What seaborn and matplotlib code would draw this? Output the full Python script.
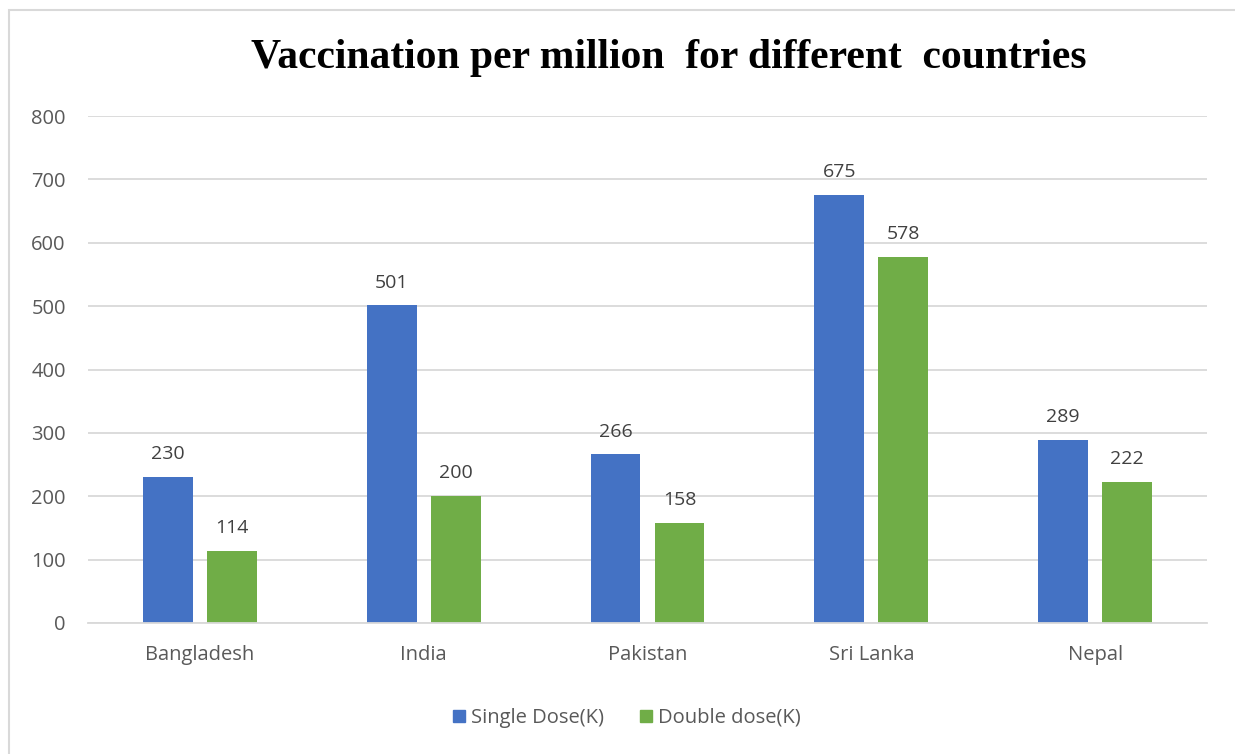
import matplotlib
matplotlib.use("Agg")
import matplotlib.pyplot as plt
import seaborn as sns
import pandas as pd
from matplotlib.patches import Rectangle

countries = ["Bangladesh", "India", "Pakistan", "Sri Lanka", "Nepal"]
single_dose = [230, 501, 266, 675, 289]
double_dose = [114, 200, 158, 578, 222]
series_names = ["Single Dose(K)", "Double dose(K)"]
y_ticks = [0, 100, 200, 300, 400, 500, 600, 700, 800]
title = "Vaccination per million  for different  countries"

df = pd.DataFrame({
    "Country": countries * 2,
    "Series": [series_names[0]] * len(countries) + [series_names[1]] * len(countries),
    "Value": single_dose + double_dose,
})

sns.set_theme(style="white")
plt.rcParams["font.family"] = ["Open Sans", "DejaVu Sans"]

W, H = 1235, 754
fig = plt.figure(figsize=(W / 100, H / 100), dpi=100)
ax = fig.add_axes([88 / W, 1 - 623 / H, (1207 - 88) / W, (623 - 116) / H])

palette = {series_names[0]: "#4472C4", series_names[1]: "#70AD47"}
sns.barplot(data=df, x="Country", y="Value", hue="Series", order=countries,
            hue_order=series_names, palette=palette, width=0.572, gap=0.22,
            saturation=1, ax=ax, legend=False, edgecolor="none")

text_gray = "#595959"
for container in ax.containers:
    ax.bar_label(container, fmt="%d", padding=10, fontsize=14, color="#404040")

ax.set_ylim(0, 800)
ax.set_xlim(-0.5, len(countries) - 0.5)
ax.set_yticks(y_ticks)
ax.yaxis.grid(True, color="#D9D9D9", linewidth=1.3)
ax.set_axisbelow(True)
for side in ["top", "right", "left"]:
    ax.spines[side].set_visible(False)
ax.spines["bottom"].set_color("#D9D9D9")
ax.spines["bottom"].set_linewidth(1.3)
ax.tick_params(axis="both", length=0, labelsize=14.5, labelcolor=text_gray)
ax.tick_params(axis="y", pad=16)
ax.tick_params(axis="x", pad=16)
ax.set_xlabel("")
ax.set_ylabel("")

fig.text(669 / W, 1 - 58 / H, title, ha="center", va="center",
         fontsize=30, fontweight="bold", family="Liberation Serif", color="black")

# chart area border
fig.patches.append(Rectangle((9 / W, -0.1), 1.2, 1 - 10 / H + 0.1,
                             transform=fig.transFigure, fill=False,
                             edgecolor="#D9D9D9", linewidth=1.5))

# legend
handles = [Rectangle((0, 0), 1, 1, color=palette[s]) for s in series_names]
fig.legend(handles, series_names, loc="center", bbox_to_anchor=(627 / W, 1 - 718 / H),
           ncol=2, frameon=False, fontsize=14.5, labelcolor=text_gray,
           handlelength=0.6, handleheight=0.6, handletextpad=0.3, columnspacing=1.8)

fig.savefig("out.png", dpi=100, facecolor="white")
